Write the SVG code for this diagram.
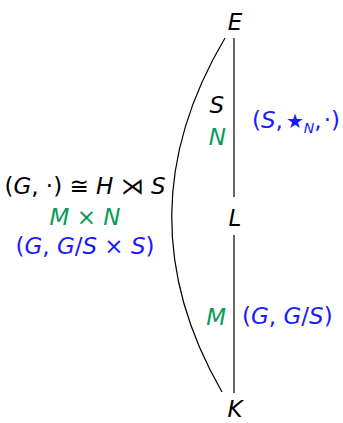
<svg xmlns="http://www.w3.org/2000/svg" width="343" height="423" viewBox="0 0 343 423">
<style>
text{font-family:"DejaVu Sans",sans-serif;font-style:oblique;font-size:23px;fill:#000}
.g{fill:#0a9a5a}
.b{fill:#1a1aff}
.up{font-style:normal}
.ln{stroke:#000;stroke-width:1.2;fill:none}
</style>
<rect width="343" height="423" fill="#fff"/>
<g id="connectors">
<line class="ln" x1="234" y1="38" x2="234" y2="197"/>
<line class="ln" x1="234" y1="235" x2="234" y2="393"/>
<path class="ln" d="M225,38 Q120,215 222,392"/>
</g>
<g id="E"><text x="235" y="30" text-anchor="middle">E</text></g>
<g id="L"><text x="235" y="226" text-anchor="middle">L</text></g>
<g id="K"><text x="235" y="417" text-anchor="middle">K</text></g>
<g id="labelEL">
<text x="224" y="113" text-anchor="end">S</text>
<text x="226" y="145" text-anchor="end" class="g">N</text>
<text x="252" y="128" class="b"><tspan class="up">(</tspan>S<tspan class="up">,</tspan><tspan class="up" font-size="20" dx="3">★</tspan><tspan font-size="14" dy="5">N</tspan><tspan class="up" dy="-5">,</tspan><tspan class="up" dx="2">·)</tspan></text>
</g>
<g id="labelLK">
<text x="226" y="325" text-anchor="end" class="g">M</text>
<text x="242" y="324" class="b"><tspan class="up">(</tspan>G<tspan class="up">, </tspan>G<tspan class="up">/</tspan>S<tspan class="up">)</tspan></text>
</g>
<g id="labelEK">
<text x="85" y="194" text-anchor="middle"><tspan class="up">(</tspan>G<tspan class="up">, ·) ≅ </tspan>H<tspan class="up"> ⋊ </tspan>S</text>
<text x="85" y="225" text-anchor="middle" class="g">M<tspan class="up"> × </tspan>N</text>
<text x="85" y="254" text-anchor="middle" class="b"><tspan class="up">(</tspan>G<tspan class="up">, </tspan>G<tspan class="up">/</tspan>S<tspan class="up"> × </tspan>S<tspan class="up">)</tspan></text>
</g>
</svg>
